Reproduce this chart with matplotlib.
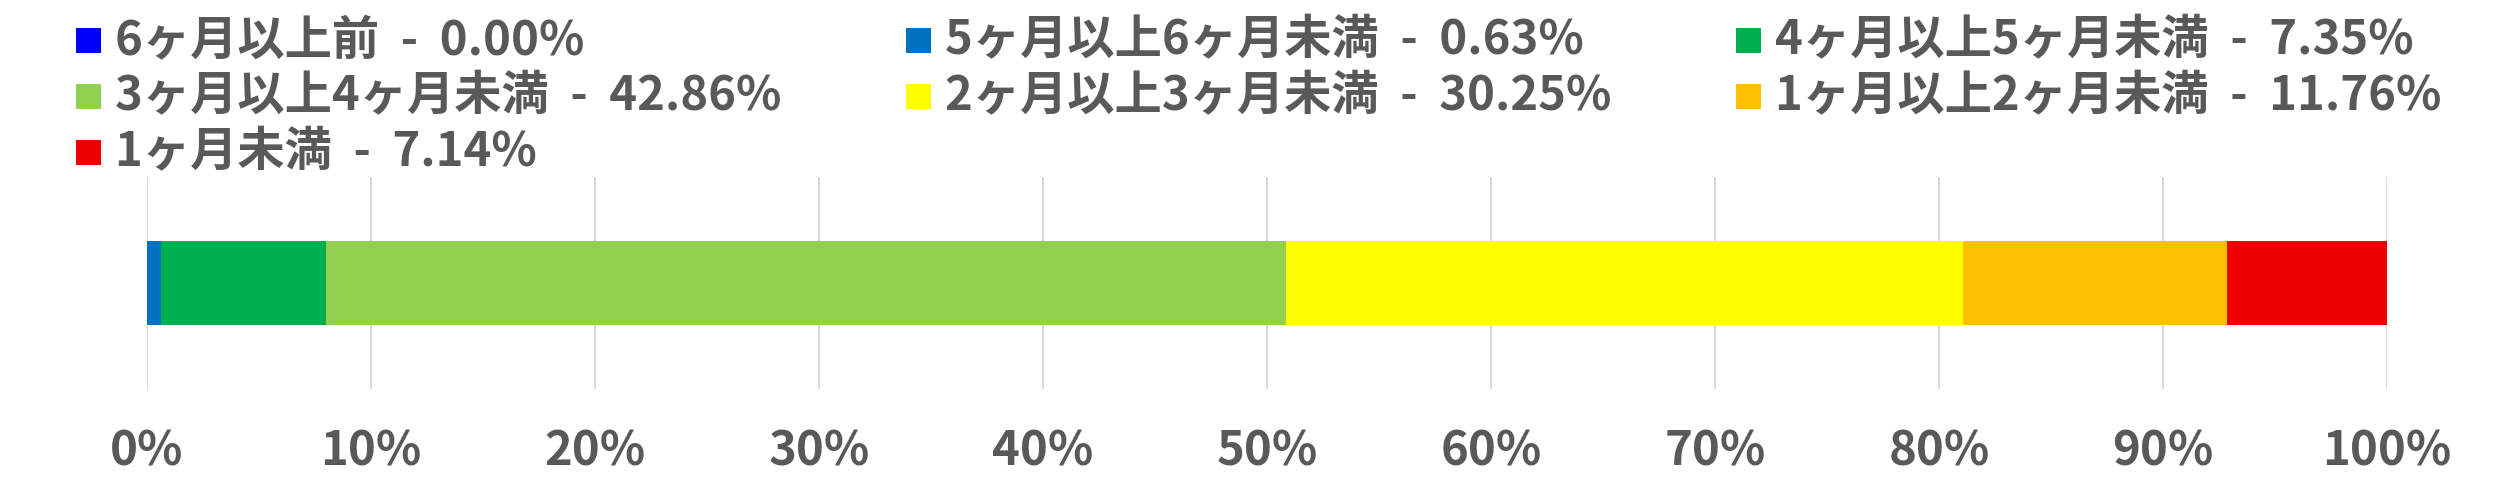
import matplotlib
matplotlib.use("Agg")
import matplotlib.pyplot as plt
from matplotlib.patches import Rectangle
from matplotlib.ticker import MultipleLocator, PercentFormatter

plt.rcParams["font.family"] = ["Noto Sans CJK JP", "DejaVu Sans"]

# data
categories = [
    "6ヶ月以上前",
    "5ヶ月以上6ヶ月未満",
    "4ヶ月以上5ヶ月未満",
    "3ヶ月以上4ヶ月未満",
    "2ヶ月以上3ヶ月未満",
    "1ヶ月以上2ヶ月未満",
    "1ヶ月未満",
]
shares = [0.00, 0.63, 7.35, 42.86, 30.25, 11.76, 7.14]
colors = ["#0000FF", "#0070C0", "#00B050", "#92D050", "#FFFF00", "#FFC000", "#EE0000"]

TEXT = "#595959"
W, H = 2518, 495

fig = plt.figure(figsize=(W / 100, H / 100), dpi=100)
ax = fig.add_axes([147 / W, (H - 389) / H, (2387 - 147) / W, (389 - 177) / H])

left = 0.0
for val, col in zip(shares, colors):
    ax.barh(0, val / 100, left=left, height=0.4, color=col, linewidth=0, zorder=3)
    left += val / 100

ax.set_xlim(0, 1)
ax.set_ylim(-0.5, 0.5)
ax.xaxis.set_major_locator(MultipleLocator(0.1))
ax.xaxis.set_major_formatter(PercentFormatter(1.0, decimals=0))
ax.grid(axis="x", color="#D9D9D9", linewidth=1.5, zorder=0)
ax.set_yticks([])
ax.tick_params(axis="x", length=0, pad=28, labelsize=34, labelcolor=TEXT)
for lbl in ax.get_xticklabels():
    lbl.set_fontweight("bold")
for sp in ax.spines.values():
    sp.set_visible(False)

# legend, three entries per row like the Excel one
col_x = [76, 906, 1736]
row_y = [40, 96, 152]
box = 25
for i, (name, val, col) in enumerate(zip(categories, shares, colors)):
    r, c = divmod(i, 3)
    x0, yc = col_x[c], row_y[r]
    fig.patches.append(Rectangle((x0 / W, (H - yc - box / 2) / H), box / W, box / H,
                                 transform=fig.transFigure, facecolor=col, edgecolor="none"))
    fig.text((x0 + 39) / W, (H - yc) / H, f"{name}  -  {val:.2f}%", fontsize=34,
             fontweight="bold", color=TEXT, va="center", ha="left")

fig.savefig("out.png", dpi=100, facecolor="white")
